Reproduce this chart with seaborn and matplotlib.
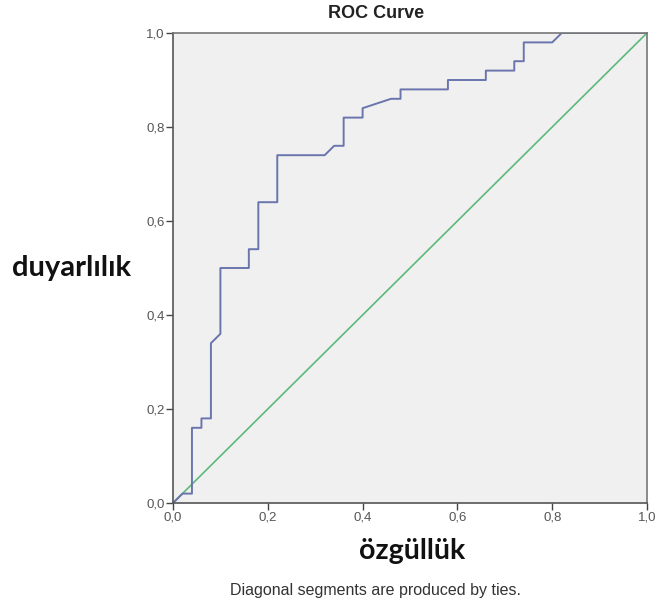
import matplotlib
matplotlib.use("Agg")
import matplotlib.pyplot as plt
import seaborn as sns
import pandas as pd
from matplotlib.ticker import FuncFormatter

sns.set_theme(style="white")

# ROC curve points (1 - specificity, sensitivity)
fpr = [0.00, 0.02, 0.04, 0.04, 0.06, 0.06, 0.08, 0.08, 0.10, 0.10, 0.16, 0.16,
       0.18, 0.18, 0.22, 0.22, 0.32, 0.34, 0.36, 0.36, 0.40, 0.40, 0.46, 0.48,
       0.48, 0.58, 0.58, 0.66, 0.66, 0.72, 0.72, 0.74, 0.74, 0.80, 0.82, 1.00]
tpr = [0.00, 0.02, 0.02, 0.16, 0.16, 0.18, 0.18, 0.34, 0.36, 0.50, 0.50, 0.54,
       0.54, 0.64, 0.64, 0.74, 0.74, 0.76, 0.76, 0.82, 0.82, 0.84, 0.86, 0.86,
       0.88, 0.88, 0.90, 0.90, 0.92, 0.92, 0.94, 0.94, 0.98, 0.98, 1.00, 1.00]
ref_x = [0.0, 1.0]
ref_y = [0.0, 1.0]
ticks = [0.0, 0.2, 0.4, 0.6, 0.8, 1.0]

roc = pd.DataFrame({"x": fpr, "y": tpr})
ref = pd.DataFrame({"x": ref_x, "y": ref_y})

fig = plt.figure(figsize=(6.56, 6.03), dpi=100)
ax = fig.add_axes([173/656, 1-503/603, 474/656, 470/603])
ax.set_facecolor("#f0f0f0")

sns.lineplot(data=ref, x="x", y="y", ax=ax, color="#5cb97a", linewidth=1.2,
             sort=False, estimator=None)
sns.lineplot(data=roc, x="x", y="y", ax=ax, color="#6a75ad", linewidth=1.4,
             sort=False, estimator=None)

ax.set_xlim(0, 1)
ax.set_ylim(0, 1)
ax.set_xticks(ticks)
ax.set_yticks(ticks)
fmt = FuncFormatter(lambda v, p: f"{v:.1f}".replace(".", ","))
ax.xaxis.set_major_formatter(fmt)
ax.yaxis.set_major_formatter(fmt)
ax.tick_params(axis="both", direction="out", length=5, width=1, color="#444444",
               labelsize=9.5, labelcolor="#555555", pad=1, bottom=True, left=True)
for lab in ax.get_xticklabels() + ax.get_yticklabels():
    lab.set_family("Liberation Sans")
for s in ax.spines.values():
    s.set_color("#555555")
    s.set_linewidth(1.2)
ax.spines["top"].set_color("#777777")
ax.spines["right"].set_color("#777777")

ax.set_xlabel("")
ax.set_ylabel("")
fig.text(376/656, 1-14/603, "ROC Curve", ha="center", va="center",
         fontsize=13, fontweight="bold", family="Liberation Sans", color="#222222")
fig.text(412/656, 1-551/603, "özgüllük", ha="center", va="center",
         fontsize=20.5, fontweight="bold", family="Lato", color="#111111")
fig.text(72/656, 1-268/603, "duyarlılık", ha="center", va="center",
         fontsize=21, fontweight="bold", family="Lato", color="#111111")
fig.text(375/656, 1-590/603, "Diagonal segments are produced by ties.",
         ha="center", va="center", fontsize=11.5, family="Liberation Sans",
         color="#333333")

fig.savefig("out.png", dpi=100)
